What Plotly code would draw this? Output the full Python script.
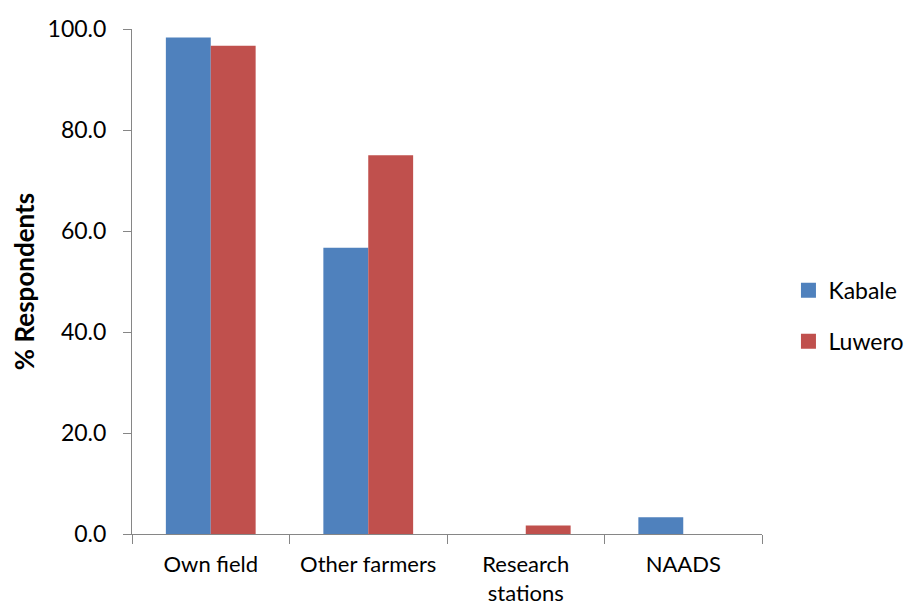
import plotly.graph_objects as go

categories = ["Own field", "Other farmers", "Research<br>stations", "NAADS"]
series_names = ["Kabale", "Luwero"]
kabale = [98.3, 56.7, 0.0, 3.3]
luwero = [96.7, 75.0, 1.7, 0.0]
y_ticks = [0, 20, 40, 60, 80, 100]

colors = ["#4F81BD", "#C0504D"]
font_family = "Lato, Open Sans, sans-serif"

fig = go.Figure()
for name, vals, col in zip(series_names, [kabale, luwero], colors):
    fig.add_trace(go.Bar(name=name, x=categories, y=vals, showlegend=False,
                         marker=dict(color=col, line=dict(width=0))))
# legend entries with square markers
for name, col in zip(series_names, colors):
    fig.add_trace(go.Scatter(name=name, x=[None], y=[None], mode="markers",
                             legendgroup=name,
                             marker=dict(symbol="square", size=15, color=col)))

fig.update_layout(
    width=908, height=610,
    margin=dict(l=132, r=146, t=29, b=76, autoexpand=False),
    paper_bgcolor="white", plot_bgcolor="white",
    barmode="group", bargap=0.43, bargroupgap=0,
    font=dict(family=font_family, size=23, color="black"),
    legend=dict(x=1.042, y=0.432, yanchor="middle", xanchor="left",
                font=dict(size=23), itemsizing="trace", tracegroupgap=18,
                itemwidth=30),
    showlegend=True,
)
fig.update_xaxes(
    showline=True, linecolor="#868686", linewidth=1, automargin=False,
    ticks="outside", tickson="boundaries", ticklen=9, tickcolor="#868686",
    showgrid=False, tickfont=dict(size=22), ticklabelstandoff=11,
)
fig.update_yaxes(
    range=[0, 100], tickvals=y_ticks, tickformat=".1f", automargin=False,
    showline=True, linecolor="#868686", linewidth=1,
    ticks="outside", ticklen=8, tickcolor="#868686",
    showgrid=False, zeroline=False, tickfont=dict(size=23),
    ticklabelstandoff=12,
    title=dict(text="<b>% Respondents</b>", font=dict(size=26), standoff=5),
)

fig.write_html("out.html")
